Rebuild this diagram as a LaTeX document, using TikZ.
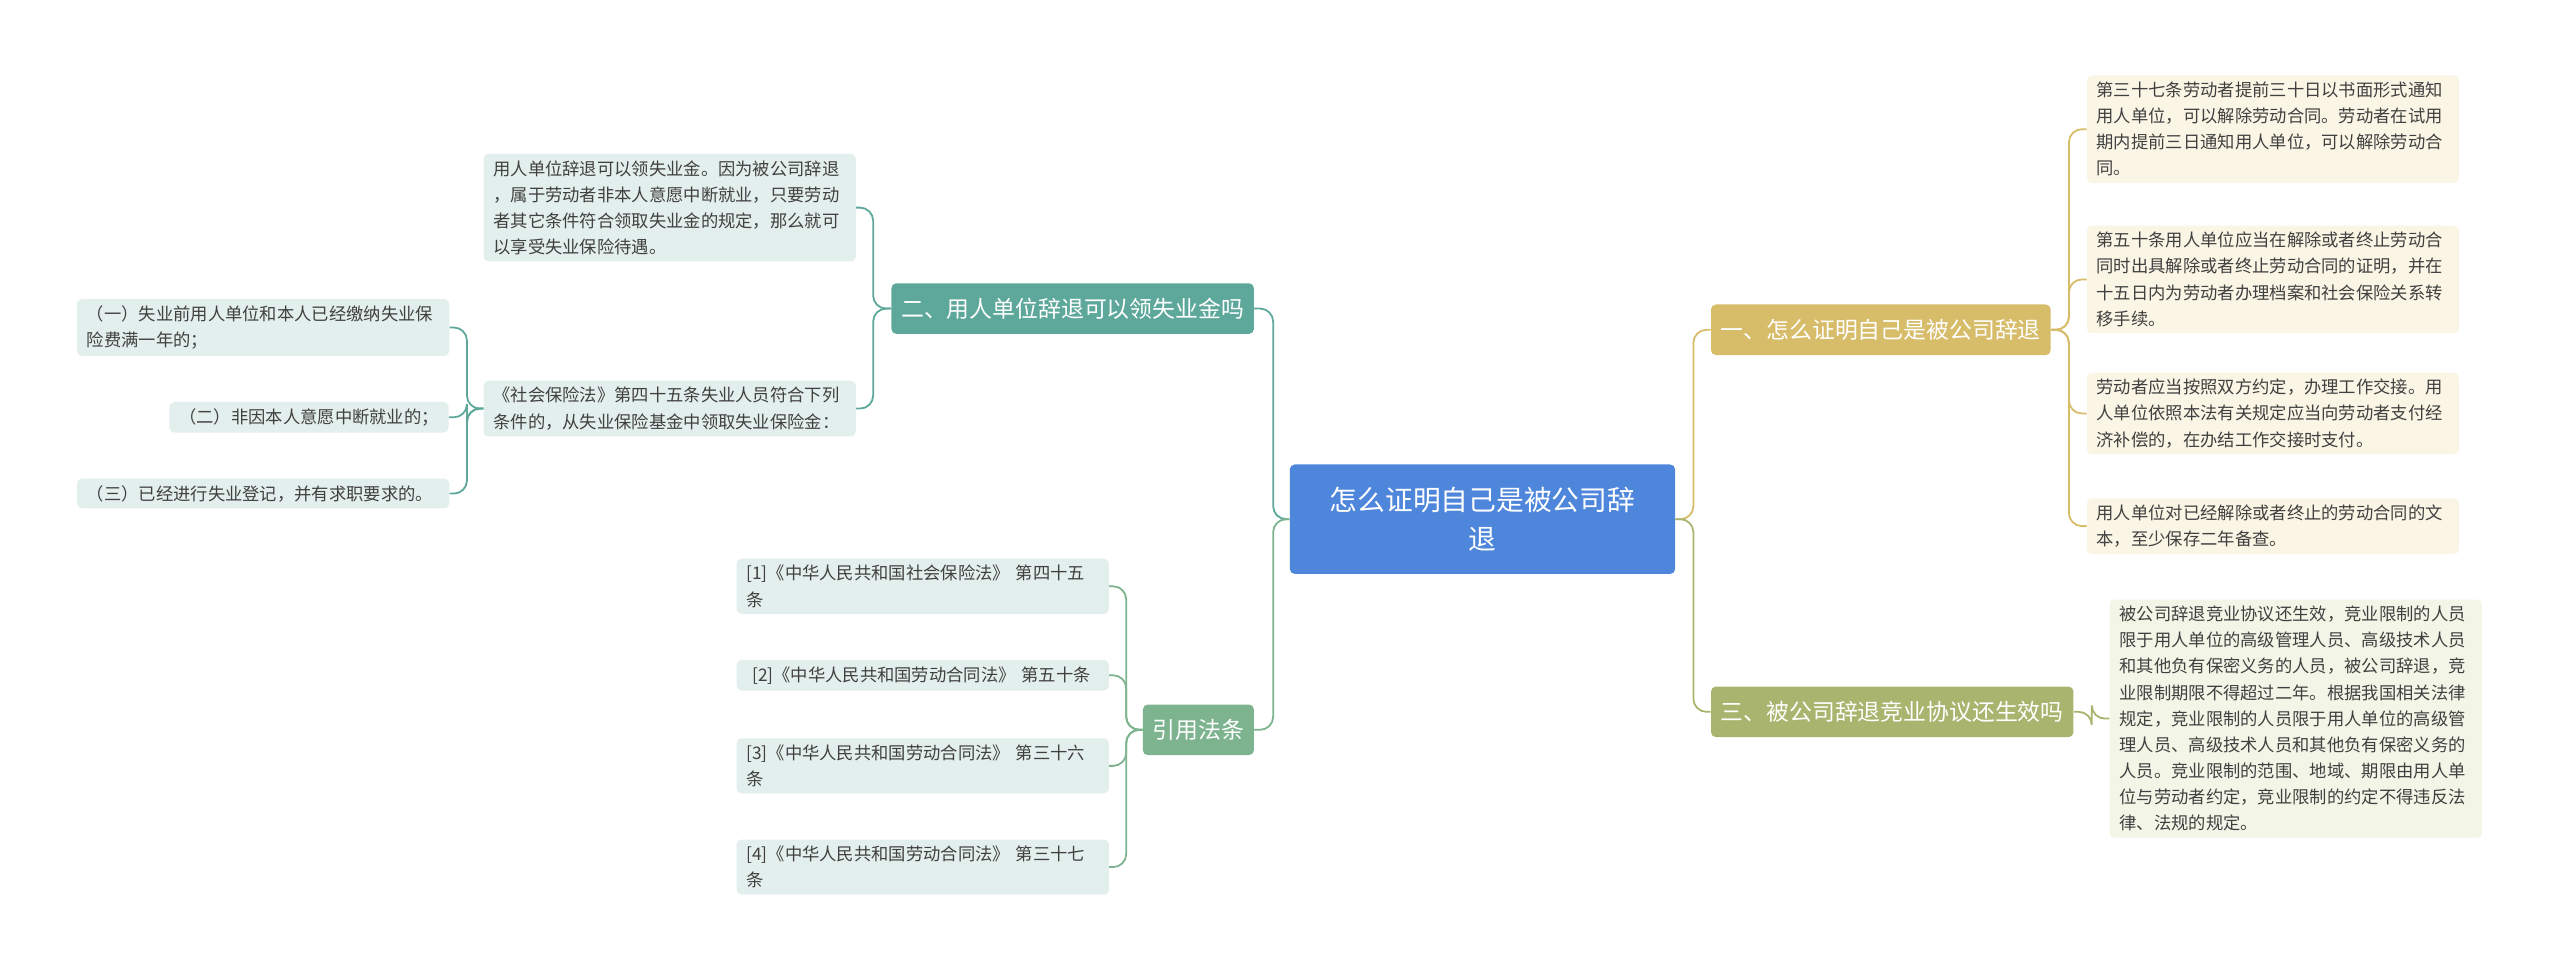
\documentclass[tikz,border=0pt]{standalone}
\usepackage{fontspec}
\setmainfont{Noto Sans CJK SC}
\begin{document}
\begin{tikzpicture}[x=1pt,y=-1pt,
 leaf/.style={anchor=north west,rounded corners=3,inner xsep=6,inner ysep=4,align=left,font=\fontsize{10.6}{16}\selectfont,text=black!75},
 br/.style={rounded corners=3,text=white,font=\fontsize{14}{18}\selectfont,inner xsep=6,minimum height=31},
 conn/.style={rounded corners=8,line width=1.1}]
\useasboundingbox (0,0) rectangle (1568,600);
\definecolor{teal1}{HTML}{5DA89A}\definecolor{green1}{HTML}{7DB38F}
\definecolor{gold1}{HTML}{D7BC69}\definecolor{olive1}{HTML}{A9B46E}
\definecolor{lt1}{HTML}{E3EFEC}\definecolor{lt2}{HTML}{FAF5E4}\definecolor{lt3}{HTML}{F3F5E6}
\node[fill={rgb,255:red,77;green,134;blue,218},rounded corners=3,text=white,minimum width=236,minimum height=67,align=center,font=\fontsize{17}{24}\selectfont] (c) at (908,318) {怎么证明自己是被公司辞\\退};
% left branches
\node[br,fill=teal1] (l1) at (657,189) {二、用人单位辞退可以领失业金吗};
\node[br,fill=green1] (l2) at (734,447) {引用法条};
\node[br,fill=gold1] (r1) at (1152,202) {一、怎么证明自己是被公司辞退};
\node[br,fill=olive1] (r2) at (1159,436) {三、被公司辞退竞业协议还生效吗};
% leaves of l1
\node[leaf,fill=lt1,text width=216] (a1) at (296,94) {用人单位辞退可以领失业金。因为被公司辞退\\，属于劳动者非本人意愿中断就业，只要劳动\\者其它条件符合领取失业金的规定，那么就可\\以享受失业保险待遇。};
\node[leaf,fill=lt1,text width=216] (a2) at (296,233) {《社会保险法》第四十五条失业人员符合下列\\条件的，从失业保险基金中领取失业保险金：};
\node[leaf,fill=lt1,text width=216] (b1) at (47,183) {（一）失业前用人单位和本人已经缴纳失业保\\险费满一年的；};
\node[leaf,fill=lt1,anchor=north east] (b2) at (275,246) {（二）非因本人意愿中断就业的；};
\node[leaf,fill=lt1,text width=216] (b3) at (47,293) {（三）已经进行失业登记，并有求职要求的。};
% leaves of l2
\node[leaf,fill=lt1,text width=216] (d1) at (451,342) {[1]《中华人民共和国社会保险法》 第四十五\\条};
\node[leaf,fill=lt1,text width=216] (d2) at (451,404) {\ [2]《中华人民共和国劳动合同法》 第五十条};
\node[leaf,fill=lt1,text width=216] (d3) at (451,452) {[3]《中华人民共和国劳动合同法》 第三十六\\条};
\node[leaf,fill=lt1,text width=216] (d4) at (451,514) {[4]《中华人民共和国劳动合同法》 第三十七\\条};
% right leaves
\node[leaf,fill=lt2,text width=216] (e1) at (1278,46) {第三十七条劳动者提前三十日以书面形式通知\\用人单位，可以解除劳动合同。劳动者在试用\\期内提前三日通知用人单位，可以解除劳动合\\同。};
\node[leaf,fill=lt2,text width=216] (e2) at (1278,138) {第五十条用人单位应当在解除或者终止劳动合\\同时出具解除或者终止劳动合同的证明，并在\\十五日内为劳动者办理档案和社会保险关系转\\移手续。};
\node[leaf,fill=lt2,text width=216] (e3) at (1278,228) {劳动者应当按照双方约定，办理工作交接。用\\人单位依照本法有关规定应当向劳动者支付经\\济补偿的，在办结工作交接时支付。};
\node[leaf,fill=lt2,text width=216] (e4) at (1278,305) {用人单位对已经解除或者终止的劳动合同的文\\本，至少保存二年备查。};
\node[leaf,fill=lt3,text width=216] (f1) at (1292,367) {被公司辞退竞业协议还生效，竞业限制的人员\\限于用人单位的高级管理人员、高级技术人员\\和其他负有保密义务的人员，被公司辞退，竞\\业限制期限不得超过二年。根据我国相关法律\\规定，竞业限制的人员限于用人单位的高级管\\理人员、高级技术人员和其他负有保密义务的\\人员。竞业限制的范围、地域、期限由用人单\\位与劳动者约定，竞业限制的约定不得违反法\\律、法规的规定。};
% connectors
\foreach \t/\col in {l1/teal1,l2/green1}
  \draw[conn,\col] (c.west) -- ([xshift=-10]c.west) |- (\t.east);
\foreach \t/\col in {r1/gold1,r2/olive1}
  \draw[conn,\col] (c.east) -- ([xshift=11]c.east) |- (\t.west);
\foreach \t in {a1,a2} \draw[conn,teal1] (l1.west) -- ([xshift=-11]l1.west) |- (\t.east);
\foreach \t in {b1,b2,b3} \draw[conn,teal1] (a2.west) -- ([xshift=-10]a2.west) |- (\t.east);
\foreach \t in {d1,d2,d3,d4} \draw[conn,green1] (l2.west) -- ([xshift=-10]l2.west) |- (\t.east);
\foreach \t in {e1,e2,e3,e4} \draw[conn,gold1] (r1.east) -- ([xshift=11]r1.east) |- (\t.west);
\draw[conn,olive1] (r2.east) -- ([xshift=11]r2.east) |- (f1.west);
\end{tikzpicture}
\end{document}
